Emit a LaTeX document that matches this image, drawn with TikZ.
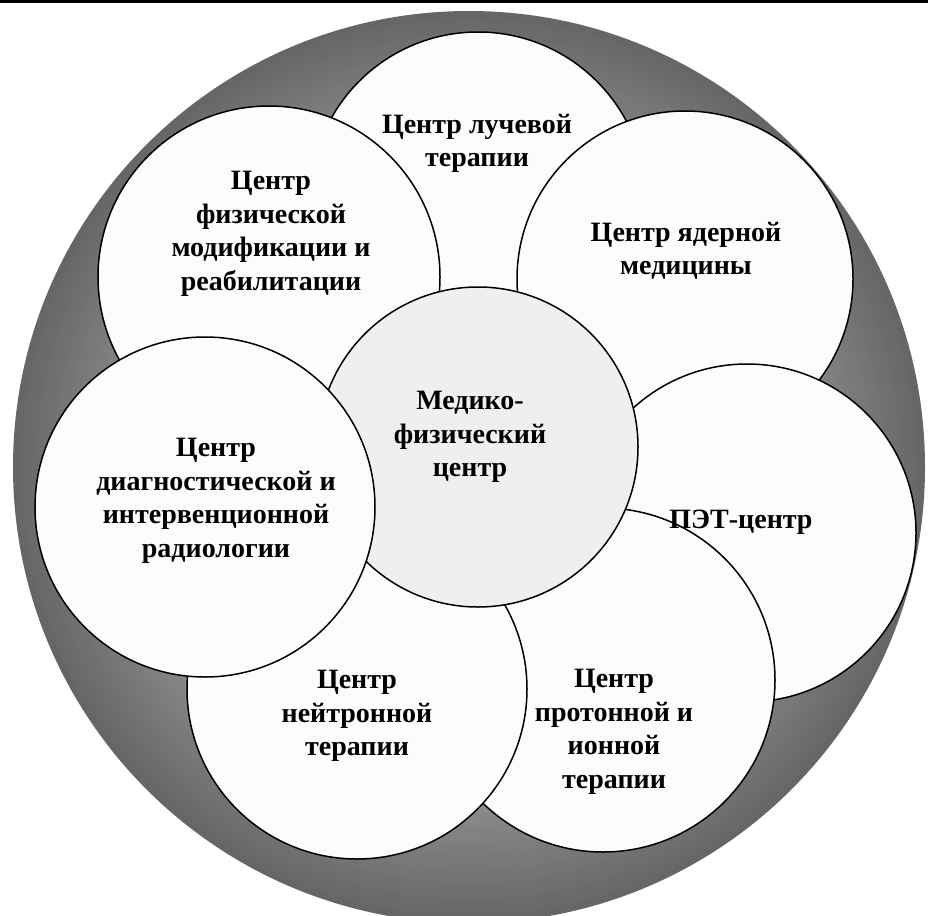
\documentclass[tikz,border=0pt]{standalone}
\usepackage{fontspec}
\setmainfont{Liberation Serif}
\definecolor{discfill}{RGB}{252,252,252}
\definecolor{midfill}{RGB}{239,239,239}
\tikzset{
  disc/.style={circle, inner sep=0pt, draw=black, line width=1.5pt, fill=discfill},
  lbl/.style={align=center, inner sep=0pt, font=\fontsize{28}{33.5}\selectfont\bfseries}
}
\begin{document}
\begin{tikzpicture}[x=1pt, y=-1pt]
\clip (0,0) rectangle (928,915);
\fill[white] (0,0) rectangle (928,915);
\fill[black] (0,0) rectangle (928,3);
\coordinate (ringc) at (469,467);
\foreach \r in {456,452,...,272} {
  \pgfmathsetmacro\bk{100*(0.60-0.57*(1-\r/456))}
  \fill[black!\bk] (ringc) circle (\r pt);
}
\node[disc, minimum size=336pt] (A) at (478,200) {};
\node[disc, minimum size=342pt] (B) at (269,277) {};
\node[disc, minimum size=336pt] (C) at (685,279) {};
\node[disc, minimum size=338pt] (D) at (747,533) {};
\node[disc, minimum size=344pt] (E) at (603,680) {};
\node[disc, minimum size=340pt] (F) at (357,689) {};
\node[disc, fill=midfill, minimum size=320pt] (M) at (478,447) {};
\node[disc, minimum size=340pt] (G) at (205,507) {};
\node[lbl] (At) at (477,143.5) {Центр лучевой\\терапии};
\node[lbl] (Bt) at (271,234) {Центр\\физической\\модификации и\\реабилитации};
\node[lbl] (Ct) at (686,251) {Центр ядерной\\медицины};
\node[lbl] (Mt) at (470,437) {Медико-\\физический\\центр};
\node[lbl] (Gt) at (216,501) {Центр\\диагностической и\\интервенционной\\радиологии};
\node[lbl] (Dt) at (741,522) {ПЭТ-центр};
\node[lbl] (Et) at (614,732) {Центр\\протонной и\\ионной\\терапии};
\node[lbl] (Ft) at (357,716) {Центр\\нейтронной\\терапии};
\end{tikzpicture}
\end{document}
